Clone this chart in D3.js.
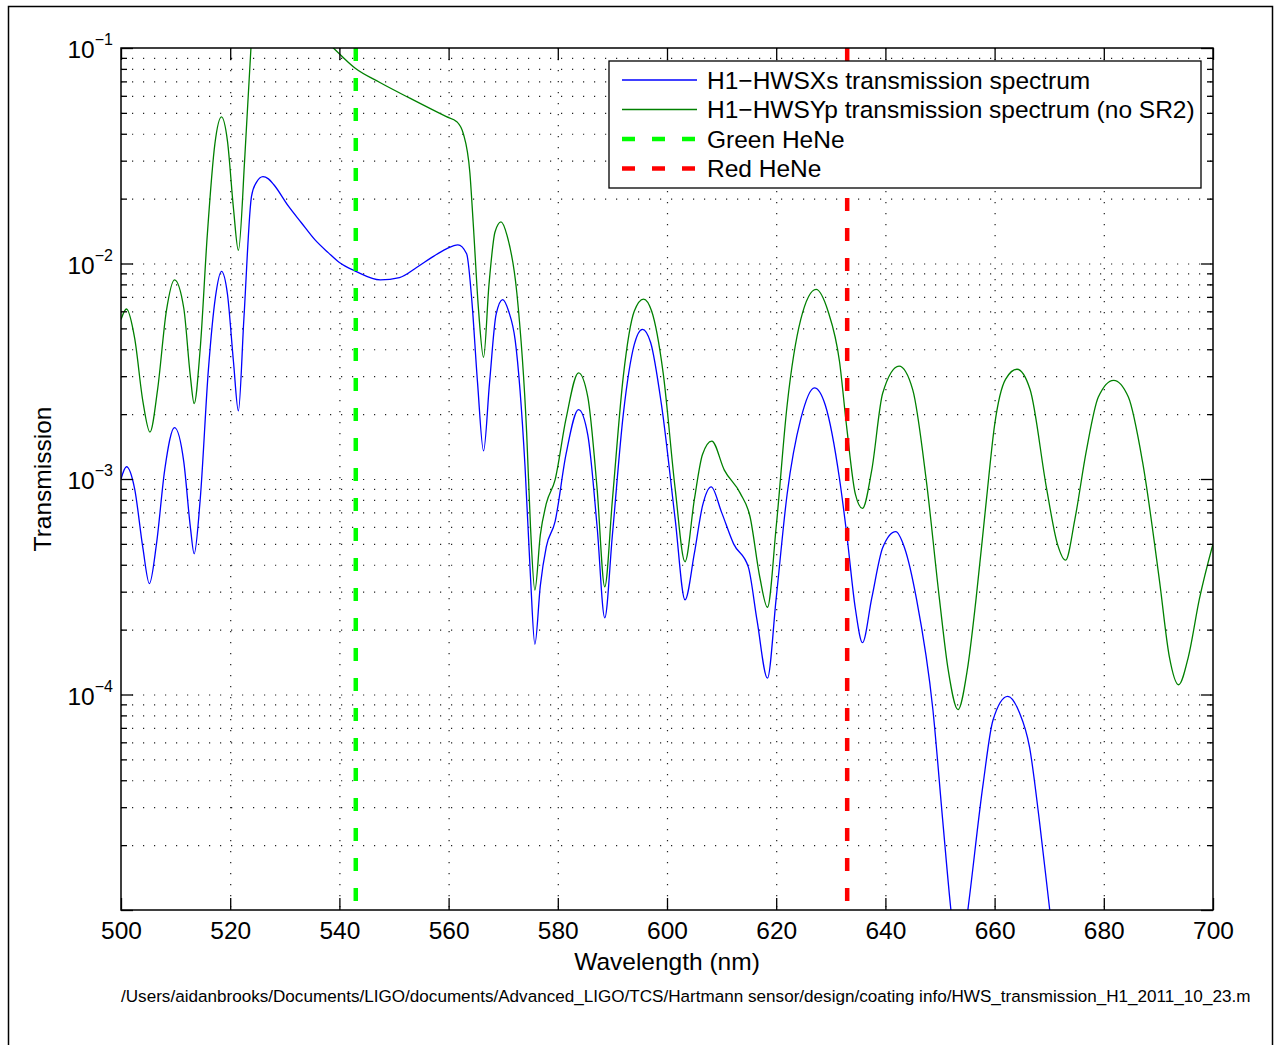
<!DOCTYPE html>
<html>
<head>
<meta charset="utf-8">
<script src="https://cdn.jsdelivr.net/npm/d3@7"></script>
<style>
  body { margin: 0; background: #fff; }
  svg { display: block; font-family: "Liberation Sans", Arial, Helvetica, sans-serif; }
</style>
</head>
<body>
<svg id="chart" width="1278" height="1045"></svg>
<script>
// wavelength (nm) / transmission
const blueWl = [500, 501, 502.5, 504, 505.2, 506.5, 508, 509.8, 511.5, 512.7, 513.4, 514.5, 516, 517.3, 518.4,
    519.5, 520.6, 521.5, 522.5, 523.9, 524.8, 526, 527, 528, 530.7, 533, 535.5, 538, 540, 543, 547.5, 551, 554.2,
    557, 559.6, 561.7, 563.3, 564.2, 565.3, 566.4, 567.5, 568.7, 569.9, 571, 572.2, 574, 575, 575.8, 576.8,
    577.9, 579.5, 581.5, 583.8, 585.5, 587.2, 588.6, 590, 592, 594, 595.5, 597, 599, 601.5, 603.3, 605, 606.5,
    608.1, 610, 612.2, 614.9, 616.5, 618.4, 620, 622, 624.5, 627, 629, 631.6, 632.9, 634.5, 635.8, 637.5,
    639.5, 641.9, 643.5, 645.7, 648.7, 650.5, 652, 653.5, 655.1, 657.9, 659.7, 662.4, 664.5, 666.4, 668.2,
    670.1, 672];
const blueT = [1.0e-3, 1.14e-3, 9.0e-4, 4.8e-4, 3.27e-4, 5.0e-4, 1.1e-3, 1.73e-3, 1.2e-3, 6.0e-4, 4.5e-4, 8.0e-4,
    3.2e-3, 7.0e-3, 9.2e-3, 7.2e-3, 3.5e-3, 2.07e-3, 5.5e-3, 0.0205, 0.0238, 0.0253, 0.0247, 0.0232, 0.0184,
    0.0155, 0.0129, 0.0112, 0.0101, 0.0092, 0.0084, 0.0086, 0.0096, 0.0107, 0.0117, 0.0122, 0.0111, 0.0070,
    0.0028, 0.00135, 0.0028, 0.0058, 0.0068, 0.0060, 0.0044, 0.00114, 0.00035, 0.000171, 0.00032, 0.000485,
    0.000634, 0.0013, 0.0021, 0.0016, 0.0006, 0.000227, 0.00055, 0.0020, 0.0042, 0.00495, 0.0043, 0.0022,
    0.00065, 0.000275, 0.00045, 0.00075, 0.00092, 0.0007, 0.0005, 0.00039, 0.00022, 0.000119, 0.00028, 0.00085,
    0.0019, 0.00265, 0.0022, 0.001, 0.00056, 0.00025, 0.000174, 0.00028, 0.00048, 0.00057, 0.00048, 0.000277,
    8.5e-5, 2.6e-5, 1.0e-5, 5e-6, 1.0e-5, 3.85e-5, 7.6e-5, 9.8e-5, 8.3e-5, 5.7e-5, 2.6e-5, 1.0e-5, 4e-6];

const greenWl = [500, 501, 502.5, 504, 505.3, 506.7, 508.3, 509.8, 511.5, 512.7, 513.4, 514.5, 515.8, 517.2, 518.4,
    519.5, 520.6, 521.5, 522.7, 523.8, 525, 528, 532, 535, 538.9, 542.9, 547.5, 552.9, 559.6, 561.5, 562.7, 563.9,
    564.5, 565.5, 566.4, 567.4, 568.5, 569.6, 570.7, 572.5, 574.3, 575, 575.8, 576.8, 577.9, 579.5, 581.5, 583.8,
    585.5, 587.2, 588.6, 590, 592, 594, 595.7, 597.2, 599.3, 601.5, 603.3, 605, 606.5, 608.2, 610.5, 613.4, 615.2,
    617, 618.4, 620, 622, 624.5, 627.3, 629.5, 631.6, 632.9, 634.5, 635.8, 637.5, 639.5, 642.5, 645, 647.5, 649.9,
    651.5, 653.3, 655, 656.6, 658.5, 660, 662, 664.1, 666.5, 669.5, 671.5, 673, 674.7, 676.8, 679, 681.8, 684.5,
    687.1, 690.2, 692, 693.7, 695.5, 697.5, 700];
const greenT = [5.5e-3, 6.15e-3, 4.5e-3, 2.3e-3, 1.65e-3, 2.6e-3, 6.0e-3, 8.4e-3, 6.2e-3, 3.0e-3, 2.24e-3, 4.0e-3,
    0.0135, 0.036, 0.0479, 0.037, 0.018, 0.0115, 0.032, 0.1, 0.25, 0.3, 0.15, 0.125, 0.1, 0.0805, 0.069, 0.0585,
    0.048, 0.0455, 0.040, 0.0263, 0.0155, 0.0060, 0.00367, 0.0080, 0.0140, 0.0156, 0.0135, 0.0073, 0.00163,
    0.0006, 0.000305, 0.00055, 0.00077, 0.00099, 0.0019, 0.00311, 0.0024, 0.0009, 0.000316, 0.0008, 0.0030,
    0.0060, 0.00684, 0.006, 0.0031, 0.0009, 0.000413, 0.0008, 0.0013, 0.0015, 0.0011, 0.00086, 0.00067,
    0.00035, 0.000254, 0.0006, 0.0022, 0.0055, 0.00758, 0.0060, 0.0035, 0.00175, 0.00085, 0.00073, 0.0011,
    0.0025, 0.00334, 0.0026, 0.00098, 0.000277, 0.00013, 8.5e-5, 0.00013, 0.000277, 0.0008, 0.00178, 0.0029,
    0.00323, 0.0026, 0.00091, 0.0005, 0.00042, 0.00065, 0.00135, 0.0024, 0.00287, 0.0024, 0.0012, 0.000337,
    0.00015, 0.000111, 0.00015, 0.000277, 0.0005];

const laserWl = [543, 633];
const seriesNames = ["H1\u2212HWSXs transmission spectrum", "H1\u2212HWSYp transmission spectrum (no SR2)",
    "Green HeNe", "Red HeNe"];
const xTicks = [500, 520, 540, 560, 580, 600, 620, 640, 660, 680, 700];
const yMajor = [1e-1, 1e-2, 1e-3, 1e-4, 1e-5];
const yLabelExp = [-1, -2, -3, -4];
const footer = "/Users/aidanbrooks/Documents/LIGO/documents/Advanced_LIGO/TCS/Hartmann sensor/design/coating info/HWS_transmission_H1_2011_10_23.m";

const L = 121, T = 48, R = 1213, B = 910;
const W = R - L, H = B - T;
const BLUE = '#0000ff', DGREEN = '#008000', LGREEN = '#00ff00', RED = '#ff0000';
const DASH = '13,17';
const FS = 24.5;

let yMinor = [];
for (let e = -5; e <= -2; e++) {
    for (let k = 2; k <= 9; k++) yMinor.push(k * Math.pow(10, e));
}

const svg = d3.select('#chart');

// outer figure frame
svg.append('rect')
    .attr('x', 8.5).attr('y', 6.5)
    .attr('width', 1264).attr('height', 1060)
    .attr('fill', 'none').attr('stroke', '#000').attr('stroke-width', 1.5);

const x = d3.scaleLinear().domain([500, 700]).range([0, W]);
const y = d3.scaleLog().domain([1e-5, 1e-1]).range([H, 0]);

const g = svg.append('g').attr('transform', `translate(${L},${T})`);

g.append('clipPath').attr('id', 'clip')
    .append('rect').attr('width', W).attr('height', H);

// dotted grid
const grid = g.append('g').attr('class', 'grid');
grid.append('g')
    .call(d3.axisBottom(x).tickValues(xTicks.slice(1, -1)).tickSize(H).tickFormat(''));
grid.append('g')
    .call(d3.axisLeft(y).tickValues(yMinor.concat(yMajor.slice(1, -1))).tickSize(-W).tickFormat(''));
grid.selectAll('.domain').remove();
grid.selectAll('line')
    .attr('stroke', '#222').attr('stroke-width', 1.2).attr('stroke-dasharray', '1.2,9.8');

// curves
const line = d3.line()
    .x(d => x(d[0]))
    .y(d => y(d[1]))
    .curve(d3.curveMonotoneX);

const plot = g.append('g').attr('clip-path', 'url(#clip)');
plot.append('path')
    .datum(d3.zip(greenWl, greenT))
    .attr('d', line)
    .attr('fill', 'none').attr('stroke', DGREEN).attr('stroke-width', 1.3);
plot.append('path')
    .datum(d3.zip(blueWl, blueT))
    .attr('d', line)
    .attr('fill', 'none').attr('stroke', BLUE).attr('stroke-width', 1.3);

plot.selectAll('line.laser')
    .data(laserWl)
    .join('line')
    .attr('class', 'laser')
    .attr('x1', d => x(d)).attr('x2', d => x(d))
    .attr('y1', 0).attr('y2', H)
    .attr('stroke', (d, i) => i === 0 ? LGREEN : RED)
    .attr('stroke-width', 4.5)
    .attr('stroke-dasharray', DASH);

// axes with inward ticks
const axisStyle = sel => {
    sel.select('.domain').remove();
    sel.selectAll('line').attr('stroke', '#000').attr('stroke-width', 1.3);
    sel.selectAll('text').attr('font-size', FS).attr('fill', '#000')
        .attr('font-family', '"Liberation Sans", Arial, sans-serif');
};
g.append('g').attr('transform', `translate(0,${H})`)
    .call(d3.axisBottom(x).tickValues(xTicks).tickSize(-12).tickPadding(12))
    .call(axisStyle);
g.append('g')
    .call(d3.axisTop(x).tickValues(xTicks).tickSize(-12).tickFormat(''))
    .call(axisStyle);
g.append('g').call(d3.axisLeft(y).tickValues(yMajor).tickSize(-12).tickFormat('')).call(axisStyle);
g.append('g').call(d3.axisLeft(y).tickValues(yMinor).tickSize(-6).tickFormat('')).call(axisStyle);
g.append('g').attr('transform', `translate(${W},0)`)
    .call(d3.axisRight(y).tickValues(yMajor).tickSize(-12).tickFormat('')).call(axisStyle);
g.append('g').attr('transform', `translate(${W},0)`)
    .call(d3.axisRight(y).tickValues(yMinor).tickSize(-6).tickFormat('')).call(axisStyle);

// y tick labels with exponents
const ylab = g.selectAll('text.ylab')
    .data(yLabelExp)
    .join('text')
    .attr('class', 'ylab')
    .attr('x', -8)
    .attr('y', d => y(Math.pow(10, d)) + 10)
    .attr('text-anchor', 'end')
    .attr('font-size', FS);
ylab.append('tspan').text('10');
ylab.append('tspan').attr('dy', -13).attr('font-size', 16).text(d => '\u2212' + Math.abs(d));

// plot box
g.append('rect')
    .attr('width', W).attr('height', H)
    .attr('fill', 'none').attr('stroke', '#000').attr('stroke-width', 1.5);

// axis titles
svg.append('text')
    .attr('x', L + W / 2).attr('y', 970)
    .attr('text-anchor', 'middle').attr('font-size', FS)
    .text('Wavelength (nm)');
svg.append('text')
    .attr('transform', `translate(51,${T + H / 2}) rotate(-90)`)
    .attr('text-anchor', 'middle').attr('font-size', FS)
    .text('Transmission');

svg.append('text')
    .attr('x', 121).attr('y', 1002)
    .attr('font-size', 17.1)
    .text(footer);

// legend
const leg = svg.append('g').attr('transform', 'translate(609,61)');
leg.append('rect')
    .attr('width', 592).attr('height', 127)
    .attr('fill', '#fff').attr('stroke', '#000').attr('stroke-width', 1.3);
const legStyle = [
    {c: BLUE, w: 1.3, dash: null},
    {c: DGREEN, w: 1.3, dash: null},
    {c: LGREEN, w: 4.5, dash: DASH},
    {c: RED, w: 4.5, dash: DASH}
];
const items = leg.selectAll('g.item')
    .data(seriesNames)
    .join('g')
    .attr('class', 'item')
    .attr('transform', (d, i) => `translate(0,${19 + i * 29.5})`);
items.append('line')
    .attr('x1', 13).attr('x2', 88)
    .attr('stroke', (d, i) => legStyle[i].c)
    .attr('stroke-width', (d, i) => legStyle[i].w)
    .attr('stroke-dasharray', (d, i) => legStyle[i].dash);
items.append('text')
    .attr('x', 98).attr('y', 8.5)
    .attr('font-size', FS)
    .text(d => d);
</script>
</body>
</html>
